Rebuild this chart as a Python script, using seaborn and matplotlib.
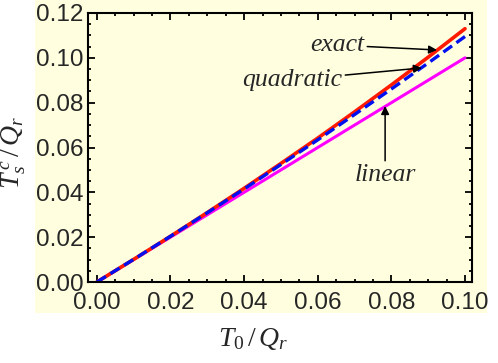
import matplotlib
matplotlib.use("Agg")
import matplotlib.pyplot as plt
from matplotlib.patches import Rectangle
from matplotlib.ticker import AutoMinorLocator, FormatStrFormatter
import seaborn as sns
import pandas as pd

# values
t0 = [0.00, 0.01, 0.02, 0.03, 0.04, 0.05, 0.06, 0.07, 0.08, 0.09, 0.10]
exact = [0.0, 0.0101, 0.0204, 0.0310, 0.0418, 0.0529, 0.0642, 0.0759, 0.0879, 0.1003, 0.1130]
quadratic = [0.0, 0.0101, 0.0204, 0.0309, 0.0415, 0.0524, 0.0634, 0.0747, 0.0861, 0.0977, 0.1095]
linear = [0.0, 0.01, 0.02, 0.03, 0.04, 0.05, 0.06, 0.07, 0.08, 0.09, 0.10]

df = pd.DataFrame({"T0": t0, "exact": exact, "quadratic": quadratic, "linear": linear})

sns.set_style("ticks")
plt.rcParams["mathtext.fontset"] = "custom"
plt.rcParams["mathtext.rm"] = "Liberation Serif"
plt.rcParams["mathtext.it"] = "Liberation Serif:italic"

bg = "#ffffe0"
fig = plt.figure(figsize=(4.98, 3.63), dpi=100)
fig.patches.append(Rectangle((0.0703, 0.1377), 0.9076, 0.8623, transform=fig.transFigure,
                             facecolor=bg, edgecolor="none", zorder=-5))
ax = fig.add_axes([0.1767, 0.2231, 0.7711, 0.7411])
ax.set_facecolor(bg)

sns.lineplot(data=df, x="T0", y="linear", color="#ff00ff", lw=2.2, ax=ax)
sns.lineplot(data=df, x="T0", y="exact", color="#ff1a00", lw=2.6, ax=ax)
sns.lineplot(data=df, x="T0", y="quadratic", color="#0010ee", lw=2.4, ls=(0, (3.2, 1.6)), ax=ax)

ax.set_xlim(-0.0024, 0.1019)
ax.set_ylim(0, 0.12)
ax.set_xticks([0, 0.02, 0.04, 0.06, 0.08, 0.10])
ax.set_yticks([0, 0.02, 0.04, 0.06, 0.08, 0.10, 0.12])
ax.xaxis.set_major_formatter(FormatStrFormatter("%.2f"))
ax.yaxis.set_major_formatter(FormatStrFormatter("%.2f"))
ax.xaxis.set_minor_locator(AutoMinorLocator(4))
ax.yaxis.set_minor_locator(AutoMinorLocator(4))
ax.tick_params(which="both", direction="in", top=True, right=True, color="black", width=1.3)
ax.tick_params(which="major", length=5)
ax.tick_params(which="minor", length=2.5)
ax.tick_params(axis="x", which="major", pad=7)
ax.tick_params(axis="y", which="major", pad=3)
for lab in ax.get_xticklabels() + ax.get_yticklabels():
    lab.set_fontfamily("Liberation Sans")
    lab.set_fontsize(17.5)
for s in ax.spines.values():
    s.set_color("black")
    s.set_linewidth(1.5)

ax.set_xlabel(r"$T_0\,/\,Q_r$", fontsize=20)
ax.set_ylabel(r"$T_s^{\,c}\,/\,Q_r$", fontsize=20)
ax.xaxis.set_label_coords(0.43, -0.155)
ax.yaxis.set_label_coords(-0.155, 0.48)

arrow = dict(arrowstyle="-|>", color="black", lw=1.1, mutation_scale=12, shrinkA=0, shrinkB=0)
tfont = dict(family="Liberation Serif", style="italic", fontsize=18.5)
ax.annotate("exact", xy=(0.0924, 0.1035), xytext=(0.0652, 0.1057),
            ha="center", va="center", arrowprops=arrow, **tfont)
ax.annotate("quadratic", xy=(0.0883, 0.0955), xytext=(0.0530, 0.0901),
            ha="center", va="center", arrowprops=arrow, **tfont)
ax.annotate("linear", xy=(0.0783, 0.0785), xytext=(0.0783, 0.0477),
            ha="center", va="center", arrowprops=arrow, **tfont)

fig.savefig("out.png", dpi=100)
